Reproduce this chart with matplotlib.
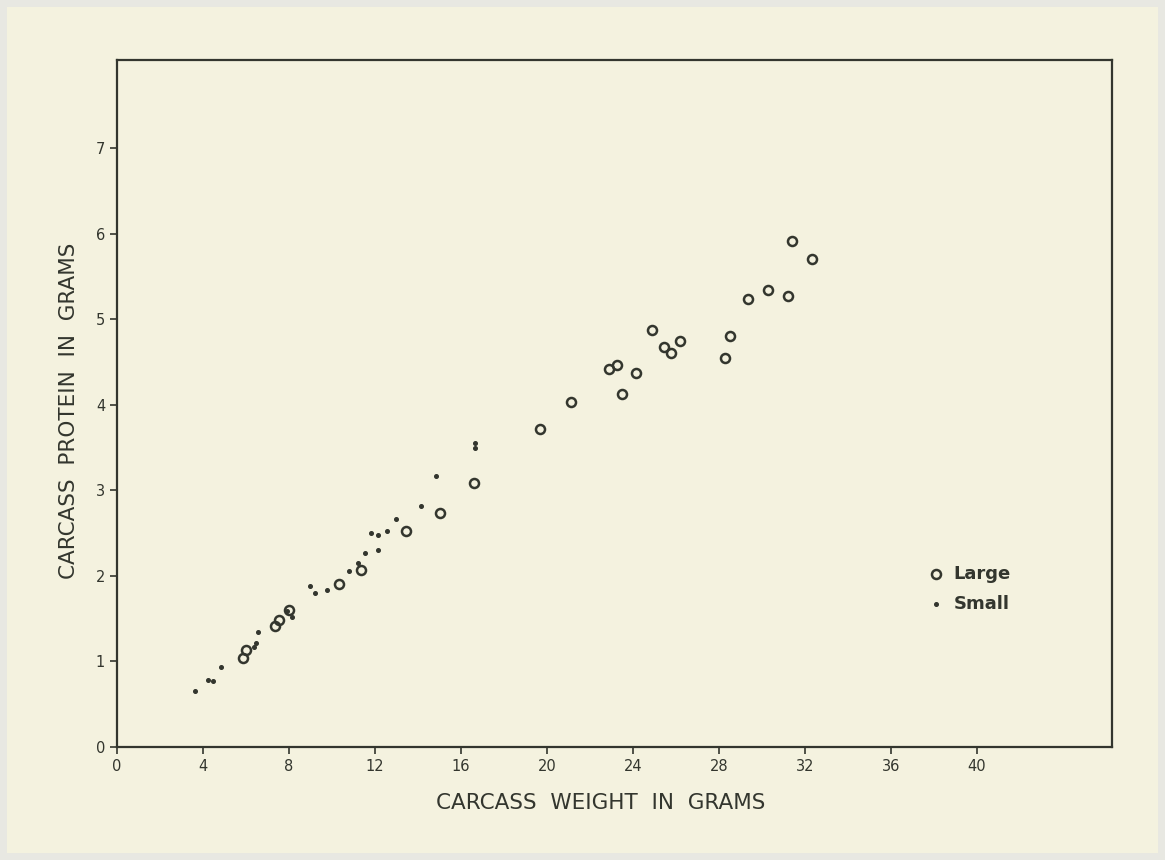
import matplotlib.pyplot as plt
from matplotlib.patches import Rectangle

# carcass weight (g) vs carcass protein (g)
large_w = [5.87, 5.99, 7.36, 7.52, 8.01, 10.34, 11.35, 13.43, 15.02, 16.62,
           19.66, 21.12, 22.87, 23.26, 23.47, 24.15, 24.87, 25.44, 25.78, 26.20,
           28.28, 28.53, 29.35, 30.29, 31.21, 31.38, 32.33]
large_p = [1.04, 1.13, 1.41, 1.48, 1.60, 1.91, 2.07, 2.53, 2.74, 3.09,
           3.72, 4.03, 4.42, 4.46, 4.13, 4.37, 4.87, 4.68, 4.61, 4.75,
           4.55, 4.80, 5.24, 5.34, 5.27, 5.92, 5.70]

small_w = [3.63, 4.25, 4.48, 4.82, 6.37, 6.47, 6.56, 7.92, 8.12, 8.98,
           9.21, 9.75, 10.80, 11.22, 11.55, 12.15, 11.81, 12.15, 12.57, 12.98,
           14.15, 14.84, 16.65, 16.65]
small_p = [0.65, 0.78, 0.77, 0.94, 1.17, 1.21, 1.34, 1.59, 1.52, 1.88,
           1.80, 1.83, 2.06, 2.15, 2.27, 2.30, 2.50, 2.48, 2.52, 2.66,
           2.82, 3.17, 3.55, 3.50]

xticks = list(range(0, 41, 4))
yticks = list(range(0, 8))

ink = '#33362e'
paper = '#f4f2df'

fig = plt.figure(figsize=(11.65, 8.6), dpi=100, facecolor=paper)
# lighter photo border
fig.patches.append(Rectangle((0, 0), 1, 1, transform=fig.transFigure, fill=False,
                             edgecolor='#e8e8e2', linewidth=10))
ax = fig.add_axes([0.1004, 0.1314, 0.8541, 0.7988])
ax.set_facecolor(paper)

ax.plot(large_w, large_p, 'o', mfc='none', mec=ink, ms=6.5, mew=1.8, linestyle='none')
ax.plot(small_w, small_p, 'o', color=ink, ms=2.6, linestyle='none')

ax.set_xlim(0, 46.28)
ax.set_ylim(0, 8.03)
ax.set_xticks(xticks)
ax.set_yticks(yticks)
for s in ax.spines.values():
    s.set_color(ink)
    s.set_linewidth(1.6)
ax.tick_params(colors=ink, labelsize=10.5, length=5, width=1.2, direction='out')

ax.set_xlabel('CARCASS  WEIGHT  IN  GRAMS', fontsize=15.5, color=ink, labelpad=14,
              x=0.486)
ax.set_ylabel('CARCASS  PROTEIN  IN  GRAMS', fontsize=15.5, color=ink, labelpad=12,
              y=0.49)

# legend drawn as plain marks and text
ax.plot([38.1], [2.02], 'o', mfc='none', mec=ink, ms=6.5, mew=1.8)
ax.plot([38.1], [1.67], 'o', color=ink, ms=2.6)
ax.text(38.9, 2.02, 'Large', fontsize=13, color=ink, va='center', fontweight='semibold')
ax.text(38.9, 1.67, 'Small', fontsize=13, color=ink, va='center', fontweight='semibold')

fig.savefig('out.png', dpi=100, facecolor=paper)
